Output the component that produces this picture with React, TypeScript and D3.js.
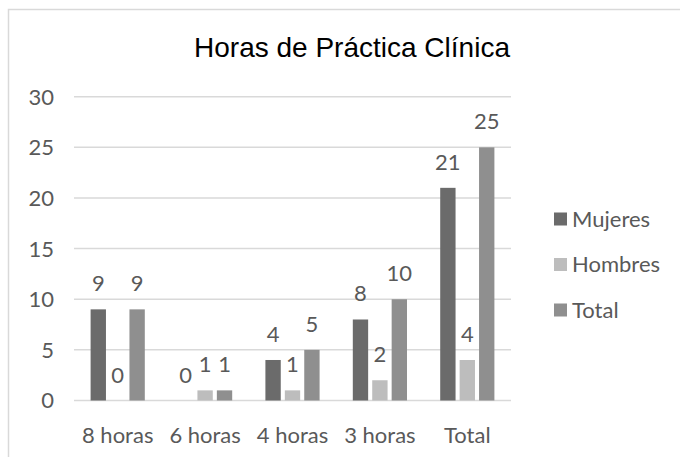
import React, { useEffect, useRef } from 'react'
import * as d3 from 'd3'

const categories = ['8 horas', '6 horas', '4 horas', '3 horas', 'Total']
const seriesNames = ['Mujeres', 'Hombres', 'Total']
const mujeres = [9, 0, 4, 8, 21]
const hombres = [0, 1, 1, 2, 4]
const totales = [9, 1, 5, 10, 25]
const yTicks = [0, 5, 10, 15, 20, 25, 30]

const colors: Record<string, string> = {
  Mujeres: '#6b6b6b',
  Hombres: '#bdbdbd',
  Total: '#8f8f8f'
}

const App: React.FC = () => {
  const svgRef = useRef<SVGSVGElement>(null)

  useEffect(() => {
    if (!svgRef.current) return
    const svg = d3.select(svgRef.current)
    svg.selectAll('*').remove()

    const labelFont = 'Lato, "Open Sans", sans-serif'
    const textColor = '#595959'

    // chart border
    svg.append('rect')
      .attr('x', 8.5).attr('y', 9.5)
      .attr('width', 700).attr('height', 500)
      .attr('fill', '#fff')
      .attr('stroke', '#d9d9d9')
      .attr('stroke-width', 1.5)

    svg.append('text')
      .attr('x', 352).attr('y', 57)
      .attr('text-anchor', 'middle')
      .style('font-family', '"Liberation Sans", Arial, sans-serif')
      .style('font-size', '28px')
      .style('fill', '#000')
      .text('Horas de Práctica Clínica')

    const x = d3.scaleBand<string>().domain(categories).range([74, 511])
    const y = d3.scaleLinear().domain([0, 30]).range([400.5, 96.7])

    const groupW = x.bandwidth() * 0.62
    const xs = d3.scaleBand<string>()
      .domain(seriesNames)
      .range([(x.bandwidth() - groupW) / 2, (x.bandwidth() + groupW) / 2])
      .paddingInner(0.21)

    // gridlines
    svg.append('g')
      .selectAll('line')
      .data(yTicks)
      .enter()
      .append('line')
      .attr('x1', 74).attr('x2', 511)
      .attr('y1', d => y(d)).attr('y2', d => y(d))
      .attr('stroke', '#d9d9d9')
      .attr('stroke-width', 1.5)

    // y tick labels
    svg.append('g')
      .selectAll('text')
      .data(yTicks)
      .enter()
      .append('text')
      .attr('x', 54)
      .attr('y', d => y(d))
      .attr('dy', '0.36em')
      .attr('text-anchor', 'end')
      .style('font-family', labelFont)
      .style('font-size', '22px')
      .style('fill', textColor)
      .text(d => d)

    const valuesBySeries: Record<string, number[]> = {
      Mujeres: mujeres,
      Hombres: hombres,
      Total: totales
    }

    const rows = categories.flatMap((c, i) =>
      seriesNames.map(s => ({ cat: c, series: s, value: valuesBySeries[s][i] }))
    )

    svg.append('g')
      .selectAll('rect')
      .data(rows)
      .enter()
      .append('rect')
      .attr('x', d => (x(d.cat) || 0) + (xs(d.series) || 0))
      .attr('y', d => y(d.value))
      .attr('width', xs.bandwidth())
      .attr('height', d => y(0) - y(d.value))
      .attr('fill', d => colors[d.series])

    // data labels
    svg.append('g')
      .selectAll('text')
      .data(rows)
      .enter()
      .append('text')
      .attr('x', d => (x(d.cat) || 0) + (xs(d.series) || 0) + xs.bandwidth() / 2)
      .attr('y', d => y(d.value) - 18)
      .attr('text-anchor', 'middle')
      .style('font-family', labelFont)
      .style('font-size', '22px')
      .style('fill', textColor)
      .text(d => d.value)

    // category labels
    svg.append('g')
      .selectAll('text')
      .data(categories)
      .enter()
      .append('text')
      .attr('x', d => (x(d) || 0) + x.bandwidth() / 2)
      .attr('y', 443)
      .attr('text-anchor', 'middle')
      .style('font-family', labelFont)
      .style('font-size', '22px')
      .style('fill', textColor)
      .text(d => d)

    // legend
    const legend = svg.append('g').attr('transform', 'translate(554, 219)')
    const items = legend.selectAll('g')
      .data(seriesNames)
      .enter()
      .append('g')
      .attr('transform', (d, i) => `translate(0, ${i * 45.5})`)

    items.append('rect')
      .attr('x', 0).attr('y', -6.5)
      .attr('width', 13).attr('height', 13)
      .attr('fill', d => colors[d])

    items.append('text')
      .attr('x', 18)
      .attr('y', 0)
      .attr('dy', '0.36em')
      .style('font-family', labelFont)
      .style('font-size', '22px')
      .style('fill', textColor)
      .text(d => d)
  }, [])

  return (
    <svg
      ref={svgRef}
      width={680}
      height={457}
      style={{ position: 'absolute', left: 0, top: 0, background: '#fff' }}
    />
  )
}

export default App
